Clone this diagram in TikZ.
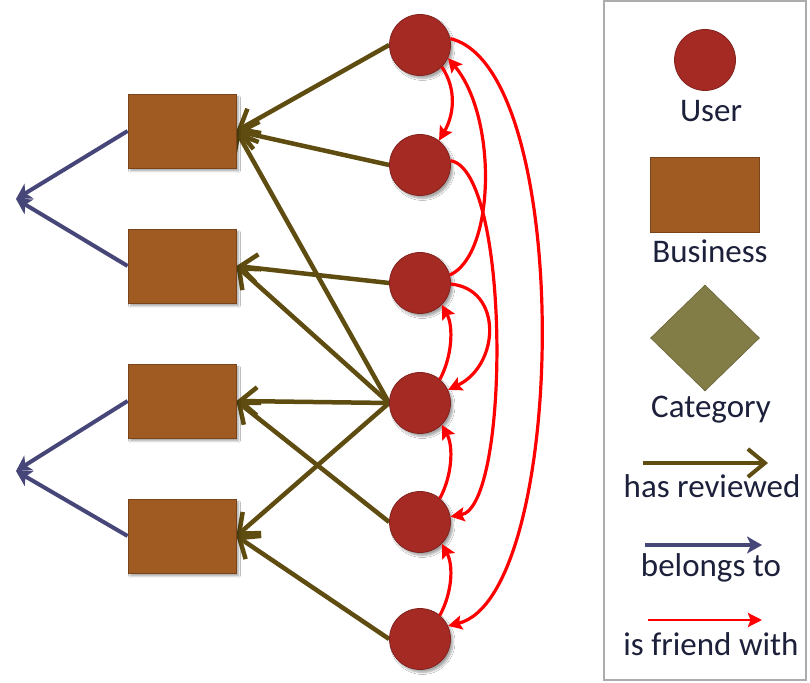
\documentclass[tikz,border=0pt]{standalone}
\usepackage{fontspec}
\setmainfont{Carlito}
\usetikzlibrary{arrows.meta,shapes.geometric,shadows.blur,backgrounds}

\definecolor{userfill}{RGB}{166,42,36}
\definecolor{userline}{RGB}{128,34,30}
\definecolor{bizfill}{RGB}{160,91,34}
\definecolor{bizline}{RGB}{122,68,26}
\definecolor{catfill}{RGB}{130,124,70}
\definecolor{reviewcol}{RGB}{94,76,16}
\definecolor{belongcol}{RGB}{70,70,120}
\definecolor{legendtext}{RGB}{28,32,58}
\definecolor{framecol}{RGB}{172,172,172}

\begin{document}
\begin{tikzpicture}[x=1pt,y=1pt,
  softshadow/.style={blur shadow={shadow xshift=2.5pt,shadow yshift=-3pt,shadow opacity=35,shadow blur steps=6}},
  user/.style={circle, minimum size=61pt, inner sep=0pt, fill=userfill, draw=userline, line width=0.8pt},
  business/.style={rectangle, minimum width=108pt, minimum height=74pt, inner sep=0pt, fill=bizfill, draw=bizline, line width=0.8pt},
  category/.style={diamond, minimum width=109pt, minimum height=106pt, inner sep=0pt, fill=catfill, draw=catfill!80!black, line width=0.6pt},
  reviewed/.style={draw=reviewcol, line width=4.5pt, -{Straight Barb[length=17pt,width=28pt]}},
  belongs/.style={draw=belongcol, line width=4pt, -{Stealth[length=15pt,width=17pt,inset=4pt]}},
  friend/.style={draw=red, line width=3.2pt, -{Stealth[length=14pt,width=14pt,inset=2.5pt]}},
  legendlabel/.style={font=\fontsize{33}{40}\selectfont, text=legendtext, anchor=base, inner sep=0pt},
]
\useasboundingbox (0,0) rectangle (810,682);

% users
\node[user,softshadow] (u1) at (420,637) {};
\node[user,softshadow] (u2) at (420,517) {};
\node[user,softshadow] (u3) at (420,399) {};
\node[user,softshadow] (u4) at (420,279) {};
\node[user,softshadow] (u5) at (420,160) {};
\node[user,softshadow] (u6) at (420,43) {};

% businesses
\node[business,softshadow] (b1) at (182,551) {};
\node[business,softshadow] (b2) at (182,416) {};
\node[business,softshadow] (b3) at (182,281) {};
\node[business,softshadow] (b4) at (182,146) {};

% categories lie beyond the left edge
\coordinate (cat1) at (16,483);
\coordinate (cat2) at (16,211);

\begin{scope}[on background layer]
  \fill[white] (0,0) rectangle (810,682);
  % has reviewed
  \draw[reviewed] (u1.west) -- (b1.east);
  \draw[reviewed] (u2.west) -- (b1.east);
  \draw[reviewed] (u4.west) -- (b1.east);
  \draw[reviewed] (u3.west) -- (b2.east);
  \draw[reviewed] (u4.west) -- (b2.east);
  \draw[reviewed] (u4.west) -- (b3.east);
  \draw[reviewed] (u5.west) -- (b3.east);
  \draw[reviewed] (u4.west) -- (b4.east);
  \draw[reviewed] (u6.west) -- (b4.east);
  % belongs to
  \draw[belongs] (b1.west) -- (cat1);
  \draw[belongs] (b2.west) -- (cat1);
  \draw[belongs] (b3.west) -- (cat2);
  \draw[belongs] (b4.west) -- (cat2);
\end{scope}

% is friend with
\draw[friend] (u1.-45) .. controls +(16,-24) and +(14,24) .. (u2.52);
\draw[friend] (u1.12) .. controls +(125,-30) and +(120,30) .. (u6.25);
\draw[friend] (u3.15) .. controls +(45,20) and +(50,-60) .. (u1.-25);
\draw[friend] (u2.8) .. controls +(60,-10) and +(60,10) .. (u5.10);
\draw[friend] (u3.-2) .. controls +(52,-5) and +(52,25) .. (u4.25);
\draw[friend] (u4.50) .. controls +(12,22) and +(12,-22) .. (u3.-45);
\draw[friend] (u5.50) .. controls +(12,22) and +(12,-22) .. (u4.-45);
\draw[friend] (u6.50) .. controls +(12,22) and +(12,-22) .. (u5.-45);

% legend
\draw[framecol, line width=1.5pt] (604,2) rectangle (806,681);
\node[user] (lu) at (705,622) {};
\node[legendlabel] (lut) at (711,560) {User};
\node[business, minimum width=109pt, minimum height=75pt] (lb) at (704.5,487.5) {};
\node[legendlabel] (lbt) at (710,419) {Business};
\node[category] (lc) at (705,344) {};
\node[legendlabel] (lct) at (711,264) {Category};
\coordinate (lr1) at (643,219);
\coordinate (lr2) at (768,219);
\draw[reviewed, line width=4pt] (lr1) -- (lr2);
\node[legendlabel] (lrt) at (712,184) {has reviewed};
\coordinate (lbl1) at (645,137);
\coordinate (lbl2) at (762,137);
\draw[belongs, line width=3.5pt] (lbl1) -- (lbl2);
\node[legendlabel] (lblt) at (711,105) {belongs to};
\coordinate (lf1) at (648,62);
\coordinate (lf2) at (762,62);
\draw[friend, line width=2.8pt] (lf1) -- (lf2);
\node[legendlabel] (lft) at (711,27) {is friend with};
\end{tikzpicture}
\end{document}
